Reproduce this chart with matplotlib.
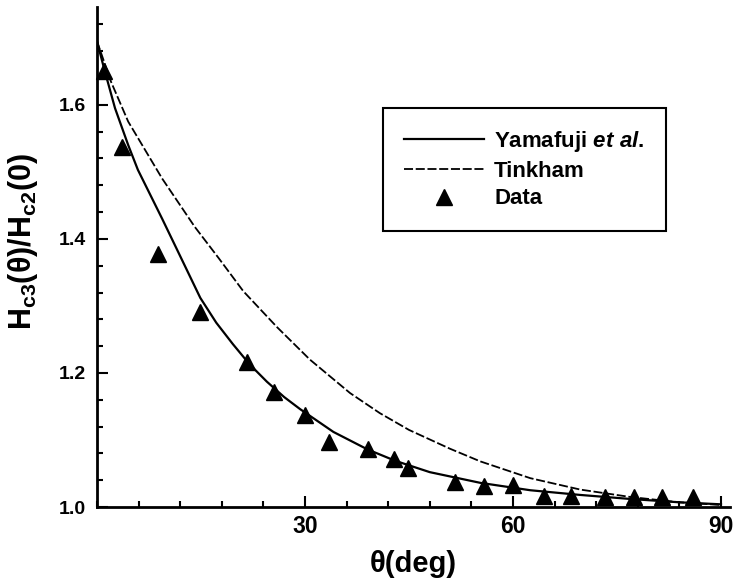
import matplotlib
matplotlib.use("Agg")
import matplotlib.pyplot as plt
from matplotlib.ticker import MultipleLocator

plt.rcParams["font.family"] = ["Liberation Sans", "DejaVu Sans"]
plt.rcParams["font.weight"] = "bold"
plt.rcParams["mathtext.fontset"] = "custom"
plt.rcParams["mathtext.rm"] = "Liberation Sans:bold"
plt.rcParams["mathtext.it"] = "Liberation Sans:bold:italic"

# data
theta_data = [1.0, 3.6, 8.8, 14.8, 21.6, 25.5, 30.0, 33.5, 39.1, 42.9,
              44.8, 51.7, 55.8, 60.0, 64.5, 68.3, 73.2, 77.4, 81.5, 86.0]
h_data = [1.650, 1.537, 1.377, 1.291, 1.217, 1.172, 1.138, 1.097, 1.086, 1.071,
          1.058, 1.038, 1.031, 1.033, 1.017, 1.016, 1.015, 1.015, 1.015, 1.015]

theta_yam = [0, 1, 2.6, 4.5, 5.9, 9.4, 11.5, 14.9, 17.2, 19.6, 22.0, 24.5, 27.0,
             29.3, 34.1, 39, 43, 48, 55.3, 62.5, 69.7, 76.9, 84, 90]
h_yam = [1.695, 1.655, 1.595, 1.540, 1.503, 1.430, 1.385, 1.312, 1.275, 1.243,
         1.213, 1.187, 1.164, 1.146, 1.112, 1.086, 1.069, 1.052, 1.036, 1.025,
         1.018, 1.012, 1.007, 1.004]

theta_tin = [0, 2, 4.5, 9.4, 14.1, 17.5, 21.1, 26, 30.7, 36.5, 40.8, 45,
             50.9, 55.3, 62.5, 69.7, 76.9, 84, 90]
h_tin = [1.695, 1.635, 1.575, 1.490, 1.418, 1.372, 1.322, 1.268, 1.220, 1.170,
         1.140, 1.115, 1.087, 1.068, 1.043, 1.026, 1.015, 1.007, 1.003]

x_ticks = [30, 60, 90]
x_ticklabels = ["30", "60", "90"]
y_ticks = [1.0, 1.2, 1.4, 1.6]
y_ticklabels = ["1.0", "1.2", "1.4", "1.6"]

fig = plt.figure(figsize=(7.33, 5.86), dpi=100)
ax = fig.add_axes([97 / 733, 79 / 586, 633 / 733, 500 / 586])

ax.plot(theta_yam, h_yam, color="black", lw=1.6, label=r"Yamafuji $et\ al.$")
ax.plot(theta_tin, h_tin, color="black", lw=1.3, dashes=(5, 1.5), label="Tinkham")
ax.plot(theta_data, h_data, "^", color="black", ms=11, clip_on=False, label="Data")

ax.set_xlim(0, 91.3)
ax.set_ylim(1.0, 1.746)
ax.set_xticks(x_ticks)
ax.set_xticklabels(x_ticklabels, fontsize=16.5, fontweight="bold")
ax.set_yticks(y_ticks)
ax.set_yticklabels(y_ticklabels, fontsize=14, fontweight="bold")
ax.xaxis.set_minor_locator(MultipleLocator(6))
ax.yaxis.set_minor_locator(MultipleLocator(0.04))
ax.tick_params(which="both", direction="in", width=1.5, top=False, right=False)
ax.tick_params(which="major", length=8)
ax.tick_params(which="minor", length=4)
ax.tick_params(axis="x", pad=6)
ax.tick_params(axis="y", pad=8)

for side in ("top", "right"):
    ax.spines[side].set_visible(False)
for side in ("left", "bottom"):
    ax.spines[side].set_linewidth(2)

ax.set_xlabel(r"θ(deg)", fontsize=21, fontweight="bold")
ax.xaxis.set_label_coords(0.5, -0.085)
ax.set_ylabel(r"H$_{\mathrm{c3}}$(θ)/H$_{\mathrm{c2}}$(0)", fontsize=22, fontweight="bold")
ax.yaxis.set_label_coords(-0.09, 0.53)

leg = ax.legend(loc="upper left", bbox_to_anchor=((383 - 97) / 633, (507 - 108) / 500),
                fontsize=16, frameon=True, fancybox=False, framealpha=1,
                edgecolor="black", borderpad=0.95, handlelength=3.6,
                handletextpad=0.45, labelspacing=0.3, borderaxespad=0)
leg.get_frame().set_linewidth(1.5)

fig.savefig("out.png", dpi=100, facecolor="white")
